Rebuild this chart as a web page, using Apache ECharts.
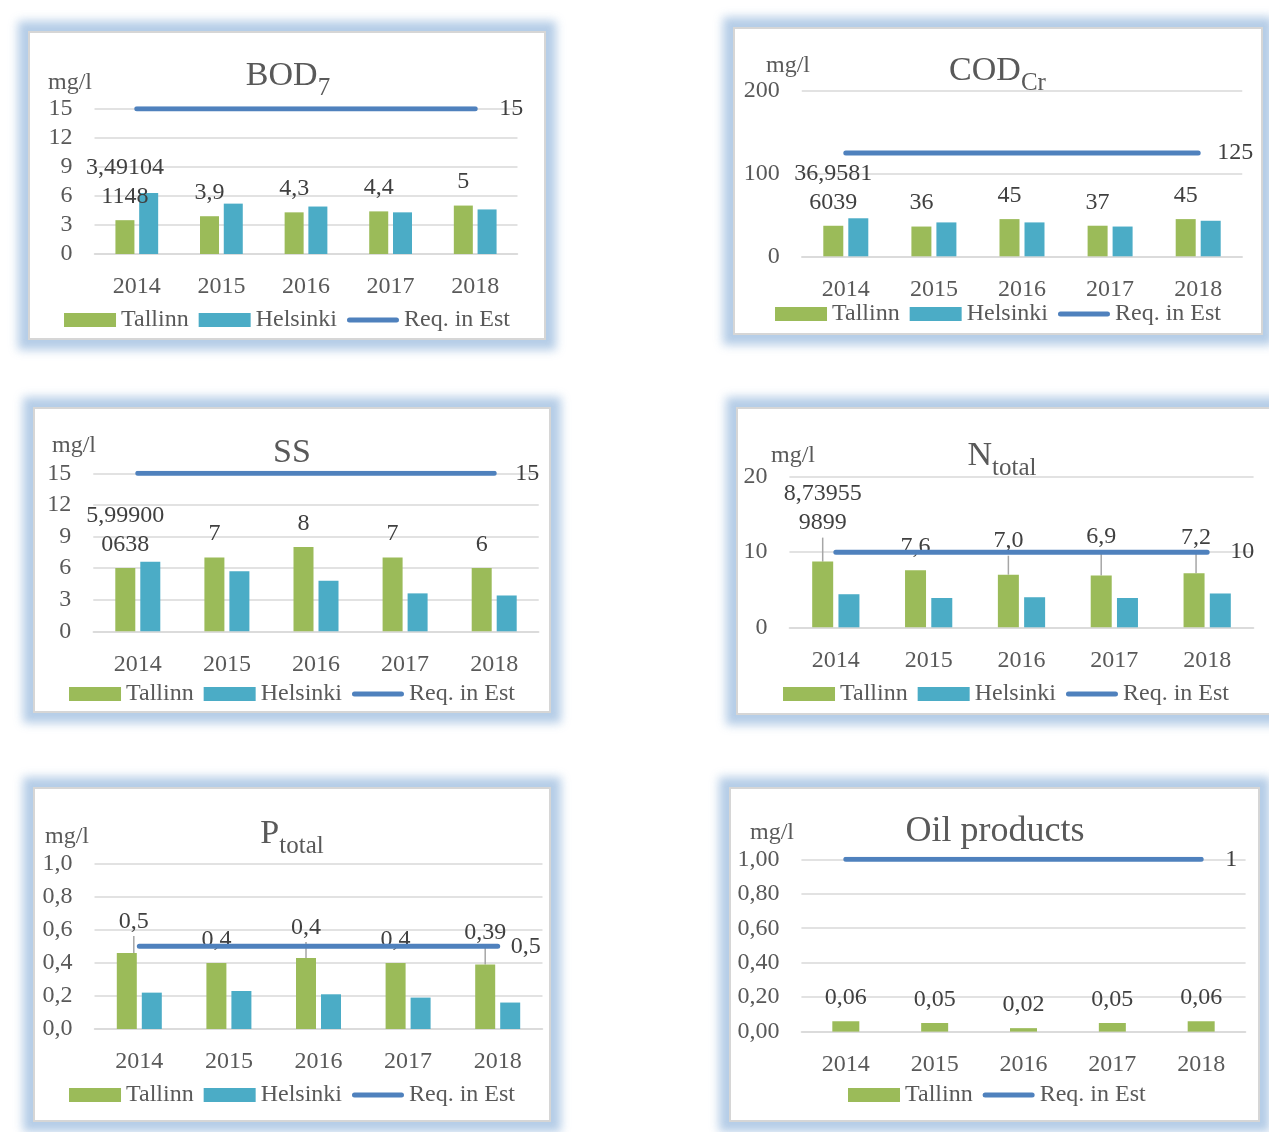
<!DOCTYPE html>
<html><head><meta charset="utf-8">
<script src="https://cdn.jsdelivr.net/npm/echarts@6/dist/echarts.min.js"></script>
<style>
html,body{margin:0;padding:0;background:#fff;width:1269px;height:1132px;overflow:hidden;}
.panel{position:absolute;background:#fff;border:2px solid #d6d6d6;box-sizing:border-box;box-shadow:0 0 9px 10px rgba(163,192,225,0.8);}
</style></head><body>
<div id="p1" class="panel" style="left:28px;top:31px;width:518px;height:309px"></div>
<div id="p2" class="panel" style="left:733px;top:27px;width:530px;height:308px"></div>
<div id="p3" class="panel" style="left:33px;top:407px;width:518px;height:306px"></div>
<div id="p4" class="panel" style="left:736px;top:407px;width:540px;height:308px"></div>
<div id="p5" class="panel" style="left:33px;top:787px;width:518px;height:335px"></div>
<div id="p6" class="panel" style="left:729px;top:787px;width:531px;height:335px"></div>
<script>
// ---------- data ----------
const years = ['2014', '2015', '2016', '2017', '2018'];

const bodTallinn = [3.491041148, 3.9, 4.3, 4.4, 5];
const bodHelsinki = [6.3, 5.2, 4.9, 4.3, 4.6];
const bodReq = [15, 15, 15, 15, 15];
const bodLabels = ['3,491041148', '3,9', '4,3', '4,4', '5'];
const bodTicks = ['0', '3', '6', '9', '12', '15'];

const codTallinn = [36.95816039, 36, 45, 37, 45];
const codHelsinki = [46, 41, 41, 36, 43];
const codReq = [125, 125, 125, 125, 125];
const codLabels = ['36,95816039', '36', '45', '37', '45'];
const codTicks = ['0', '100', '200'];

const ssTallinn = [5.999000638, 7, 8, 7, 6];
const ssHelsinki = [6.6, 5.7, 4.8, 3.6, 3.4];
const ssReq = [15, 15, 15, 15, 15];
const ssLabels = ['5,999000638', '7', '8', '7', '6'];
const ssTicks = ['0', '3', '6', '9', '12', '15'];

const nTallinn = [8.739559899, 7.6, 7.0, 6.9, 7.2];
const nHelsinki = [4.4, 3.9, 4.0, 3.9, 4.5];
const nReq = [10, 10, 10, 10, 10];
const nLabels = ['8,739559899', '7,6', '7,0', '6,9', '7,2'];
const nTicks = ['0', '10', '20'];

const pTallinn = [0.46, 0.40, 0.43, 0.40, 0.39];
const pHelsinki = [0.22, 0.23, 0.21, 0.19, 0.16];
const pReq = [0.5, 0.5, 0.5, 0.5, 0.5];
const pLabels = ['0,5', '0,4', '0,4', '0,4', '0,39'];
const pTicks = ['0,0', '0,2', '0,4', '0,6', '0,8', '1,0'];

const oilTallinn = [0.06, 0.05, 0.02, 0.05, 0.06];
const oilReq = [1, 1, 1, 1, 1];
const oilLabels = ['0,06', '0,05', '0,02', '0,05', '0,06'];
const oilTicks = ['0,00', '0,20', '0,40', '0,60', '0,80', '1,00'];

// ---------- styling ----------
const FONT = "'Liberation Serif', 'DejaVu Serif', serif";
const TXT = '#595959';
const LBL = '#404040';
const GREEN = '#9bbb59', TEAL = '#4bacc6', BLUE = '#4f81bd';
const FS = 24;
const LINE_ICON = 'path://M0,0 M52,14 M2.5,4.5 L49.5,4.5 A2.5,2.5 0 0 1 49.5,9.5 L2.5,9.5 A2.5,2.5 0 0 1 2.5,4.5 Z';

const mctx = document.createElement('canvas').getContext('2d');
function textWidth(t, size) { mctx.font = size + "px 'Liberation Serif'"; return mctx.measureText(t).width; }

function wrap(s) { return s.length > 7 ? s.slice(0, 7) + '\n' + s.slice(7) : s; }
function reqText(v) { return String(v).replace('.', ','); }

function makePanel(id, c) {
  const chart = echarts.init(document.getElementById(id));
  const series = [];
  const legendData = [];
  const tData = c.tallinn.map((v, i) => ({ value: v, labelLine: { show: !!(c.lead && c.lead[i]) } }));
  series.push({
    type: 'bar', name: 'Tallinn', data: tData, barWidth: c.barWidth, barGap: '25%',
    itemStyle: { color: GREEN },
    label: {
      show: true, position: 'top', distance: 9,
      formatter: p => wrap(c.labels[p.dataIndex]),
      fontFamily: FONT, fontSize: FS, lineHeight: 29, color: LBL
    },
    labelLine: { show: false, lineStyle: { color: '#a6a6a6', width: 1.5 } },
    labelLayout: p => ({ dx: (c.ldx && c.ldx[p.dataIndex]) || 0, dy: (c.ldy && c.ldy[p.dataIndex]) || 0 }),
    z: 2
  });
  legendData.push({ name: 'Tallinn', icon: 'rect' });
  if (c.helsinki) {
    series.push({
      type: 'bar', name: 'Helsinki', data: c.helsinki, barWidth: c.barWidth, barGap: '25%',
      itemStyle: { color: TEAL }, z: 1
    });
    legendData.push({ name: 'Helsinki', icon: 'rect' });
  }
  series.push({
    type: 'line', name: 'Req. in Est', data: c.req, symbol: 'none', silent: true,
    lineStyle: { color: BLUE, width: 5, cap: 'round' }, itemStyle: { color: BLUE },
    endLabel: {
      show: true, distance: c.endDist, formatter: p => reqText(p.value),
      fontFamily: FONT, fontSize: FS, color: LBL
    },
    z: 3
  });
  legendData.push({ name: 'Req. in Est', icon: LINE_ICON, itemStyle: { color: BLUE, borderWidth: 0 } });

  // title (main + subscript), centred on c.title.x
  const mainSize = c.title.size || 34, subSize = 25;
  const wMain = textWidth(c.title.main, mainSize);
  const wSub = c.title.sub ? textWidth(c.title.sub, subSize) : 0;
  const x0 = c.title.x - (wMain + wSub) / 2;
  const graphics = [
    { type: 'text', x: x0, y: c.title.y,
      style: { text: c.title.main, align: 'left', verticalAlign: 'middle', fontFamily: FONT, fontSize: mainSize, fill: TXT } },
    { type: 'text', x: c.unit.x, y: c.unit.y,
      style: { text: 'mg/l', align: 'left', verticalAlign: 'middle', fontFamily: FONT, fontSize: FS, fill: TXT } }
  ];
  if (c.title.sub) {
    graphics.push({ type: 'text', x: x0 + wMain, y: c.title.y + 12,
      style: { text: c.title.sub, align: 'left', verticalAlign: 'middle', fontFamily: FONT, fontSize: subSize, fill: TXT } });
  }

  chart.setOption({
    animation: false,
    grid: Object.assign({ outerBoundsMode: 'none', containLabel: false }, c.grid),
    xAxis: {
      type: 'category', data: years,
      axisTick: { show: false },
      axisLine: { show: true, lineStyle: { color: '#d9d9d9', width: 1.5 } },
      axisLabel: { margin: 21, fontFamily: FONT, fontSize: FS, color: TXT }
    },
    yAxis: {
      type: 'value', min: 0, max: c.max, interval: c.interval,
      axisLine: { show: false }, axisTick: { show: false },
      splitLine: { lineStyle: { color: '#d9d9d9', width: 1.5 } },
      axisLabel: {
        margin: 22, fontFamily: FONT, fontSize: FS, color: TXT,
        formatter: v => c.ticks[Math.round(v / c.interval)]
      }
    },
    legend: {
      data: legendData, top: c.legendTop, left: c.legendLeft || 'center',
      itemWidth: 52, itemHeight: 14, itemGap: 10,
      textStyle: { fontFamily: FONT, fontSize: FS, color: TXT }
    },
    graphic: graphics,
    series: series
  });
}

makePanel('p1', {
  tallinn: bodTallinn, helsinki: bodHelsinki, req: bodReq, labels: bodLabels, ticks: bodTicks,
  max: 15, interval: 3, barWidth: 19, endDist: 24,
  grid: { left: 64.5, right: 26.5, top: 75.7, bottom: 84 },
  title: { main: 'BOD', sub: '7', x: 258, y: 43 }, unit: { x: 18, y: 50 }, legendTop: 270
});
makePanel('p2', {
  tallinn: codTallinn, helsinki: codHelsinki, req: codReq, labels: codLabels, ticks: codTicks,
  max: 200, interval: 100, barWidth: 20, endDist: 19,
  grid: { left: 66.75, right: 18.75, top: 62, bottom: 76.7 },
  title: { main: 'COD', sub: 'Cr', x: 262.5, y: 42 }, unit: { x: 31, y: 37 }, legendTop: 268
});
makePanel('p3', {
  tallinn: ssTallinn, helsinki: ssHelsinki, req: ssReq, labels: ssLabels, ticks: ssTicks,
  max: 15, interval: 3, barWidth: 20, endDist: 21,
  grid: { left: 58.25, right: 10.25, top: 64.3, bottom: 79.7 },
  title: { main: 'SS', x: 257, y: 44 }, unit: { x: 17, y: 37 }, legendTop: 268
});
makePanel('p4', {
  tallinn: nTallinn, helsinki: nHelsinki, req: nReq, labels: nLabels, ticks: nTicks,
  max: 20, interval: 10, barWidth: 21, endDist: 23,
  lead: [1, 0, 1, 1, 1], ldy: [-15, 0, -10, -15, -12], ldx: [0, 0, 0, 0, 2],
  grid: { left: 51.4, right: 20.4, top: 68, bottom: 85.7 },
  title: { main: 'N', sub: 'total', x: 264, y: 47 }, unit: { x: 33, y: 47 }, legendTop: 268
});
makePanel('p5', {
  tallinn: pTallinn, helsinki: pHelsinki, req: pReq, labels: pLabels, ticks: pTicks,
  max: 1, interval: 0.2, barWidth: 20, endDist: 13,
  lead: [1, 0, 1, 0, 1], ldy: [-8, 0, -7, 0, -8], ldx: [7, 0, 0, 0, 0],
  grid: { left: 59.5, right: 6.5, top: 74.7, bottom: 91 },
  title: { main: 'P', sub: 'total', x: 257, y: 45 }, unit: { x: 10, y: 48 }, legendTop: 289
});
makePanel('p6', {
  tallinn: oilTallinn, helsinki: null, req: oilReq, labels: oilLabels, ticks: oilTicks,
  max: 1, interval: 0.2, barWidth: 27, endDist: 24,
  grid: { left: 70.4, right: 12.4, top: 70.3, bottom: 88.4 },
  title: { main: 'Oil products', x: 264, y: 43, size: 36 }, unit: { x: 19, y: 44 }, legendTop: 289, legendLeft: 112
});
</script>
</body></html>
